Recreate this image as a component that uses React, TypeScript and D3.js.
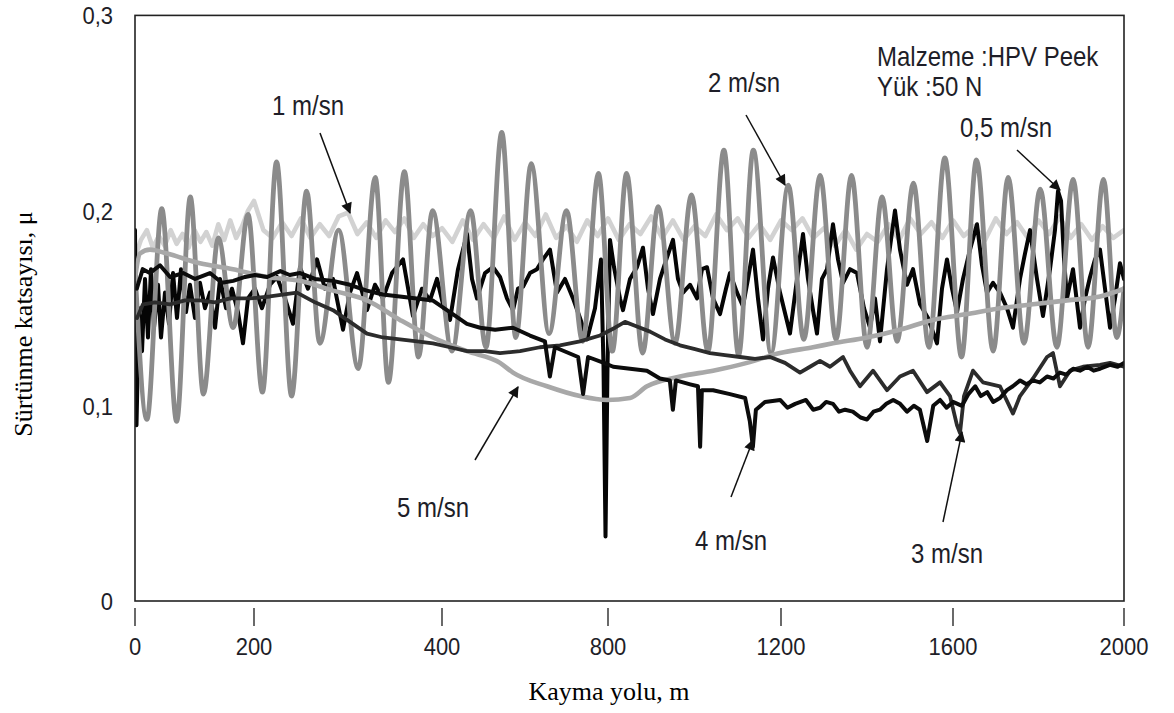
import React from 'react';
import * as d3 from 'd3';

// ---------- data (distance in m, friction coefficient μ) ----------
const xTickValues = [0, 200, 400, 800, 1200, 1600, 2000];
const xTickLabels = ['0', '200', '400', '800', '1200', '1600', '2000'];
const yTickValues = [0, 0.1, 0.2, 0.3];
const yTickLabels = ['0', '0,1', '0,2', '0,3'];

const speed1: [number, number][] = [
  [0, 0.176], [10, 0.185], [20, 0.19], [30, 0.181], [40, 0.187], [50, 0.182], [60, 0.19], [70, 0.183], [80, 0.188], [90, 0.181],
  [100, 0.19], [110, 0.184], [120, 0.189], [130, 0.182], [140, 0.193], [150, 0.185], [160, 0.195], [170, 0.186], [180, 0.192], [190, 0.2],
  [200, 0.205], [210, 0.19], [220, 0.186], [230, 0.194], [240, 0.187], [250, 0.196], [260, 0.186], [270, 0.193], [280, 0.187], [290, 0.197],
  [300, 0.199], [310, 0.188], [320, 0.194], [330, 0.186], [340, 0.195], [350, 0.189], [360, 0.196], [370, 0.186], [380, 0.193], [390, 0.187],
  [400, 0.191], [425, 0.184], [450, 0.195], [475, 0.185], [500, 0.193], [525, 0.186], [550, 0.197], [575, 0.185], [600, 0.194], [625, 0.187],
  [650, 0.198], [675, 0.186], [700, 0.192], [725, 0.184], [750, 0.195], [775, 0.187], [800, 0.196], [825, 0.185], [850, 0.193], [875, 0.188],
  [900, 0.197], [925, 0.186], [950, 0.195], [975, 0.185], [1000, 0.192], [1025, 0.187], [1050, 0.198], [1075, 0.19], [1100, 0.196], [1125, 0.186],
  [1150, 0.193], [1175, 0.185], [1200, 0.195], [1225, 0.19], [1250, 0.196], [1275, 0.186], [1300, 0.191], [1325, 0.182], [1350, 0.19], [1375, 0.18],
  [1400, 0.188], [1425, 0.184], [1450, 0.193], [1475, 0.185], [1500, 0.196], [1525, 0.188], [1550, 0.194], [1575, 0.186], [1600, 0.195], [1625, 0.187],
  [1650, 0.192], [1675, 0.185], [1700, 0.196], [1725, 0.188], [1750, 0.194], [1775, 0.186], [1800, 0.195], [1825, 0.188], [1850, 0.197], [1875, 0.186],
  [1900, 0.193], [1925, 0.185], [1950, 0.192], [1975, 0.186], [2000, 0.19],
];

const speed05: [number, number][] = [
  [0, 0.19], [2.5, 0.09], [6.7, 0.15], [11.8, 0.128], [16.8, 0.165], [21.8, 0.135], [26.9, 0.17], [31.9, 0.14], [38.7, 0.162], [43.7, 0.135],
  [50.4, 0.158], [57.1, 0.142], [63.9, 0.168], [70.6, 0.145], [77.3, 0.17], [85.7, 0.148], [92.4, 0.162], [100.8, 0.145], [109.2, 0.163], [117.6, 0.15],
  [126, 0.158], [134.5, 0.14], [142.9, 0.165], [153, 0.15], [163, 0.16], [173.1, 0.148], [181.5, 0.132], [189.9, 0.155], [201, 0.16], [208.5, 0.15],
  [217, 0.162], [224.5, 0.166], [233, 0.155], [241.5, 0.142], [248.9, 0.171], [257.4, 0.16], [267, 0.175], [275.5, 0.16], [284, 0.165], [294.7, 0.139],
  [302.1, 0.158], [309.6, 0.168], [320.2, 0.149], [328.7, 0.162], [337.2, 0.155], [346.8, 0.168], [358.5, 0.175], [369.1, 0.146], [378.7, 0.16], [387.2, 0.154],
  [394.7, 0.165], [404.8, 0.15], [419.3, 0.144], [438.6, 0.17], [460.2, 0.188], [472.3, 0.165], [484.3, 0.155], [503.6, 0.168], [522.9, 0.171], [539.8, 0.166],
  [556.6, 0.155], [571.1, 0.149], [583.1, 0.16], [595.2, 0.161], [612, 0.168], [628.9, 0.17], [643.4, 0.175], [660.2, 0.18], [677.1, 0.158], [696.4, 0.165],
  [715.7, 0.155], [732.5, 0.145], [749.4, 0.134], [768.7, 0.15], [783.1, 0.175], [789.2, 0.12], [794, 0.033], [798.8, 0.12], [804.6, 0.185], [813.9, 0.171],
  [827.7, 0.155], [834.7, 0.149], [850.9, 0.165], [867, 0.171], [880.9, 0.181], [892.5, 0.16], [904, 0.147], [920.2, 0.165], [936.4, 0.176], [950.3, 0.185],
  [961.8, 0.165], [973.4, 0.158], [989.6, 0.162], [1005.8, 0.155], [1017.3, 0.17], [1028.9, 0.171], [1042.8, 0.155], [1059, 0.147], [1072.8, 0.16], [1082.1, 0.168],
  [1098.3, 0.158], [1112.1, 0.151], [1123.7, 0.165], [1135.3, 0.18], [1146.8, 0.155], [1158.4, 0.134], [1169.9, 0.16], [1181.5, 0.176], [1197.7, 0.158], [1220.9, 0.137],
  [1237.2, 0.165], [1251.2, 0.188], [1262.8, 0.165], [1274.4, 0.149], [1283.7, 0.137], [1295.3, 0.165], [1307, 0.17], [1320.9, 0.193], [1332.6, 0.175], [1344.2, 0.163],
  [1360.5, 0.17], [1376.7, 0.168], [1393, 0.15], [1407, 0.14], [1418.6, 0.155], [1430.2, 0.133], [1446.5, 0.17], [1465.1, 0.2], [1476.7, 0.18], [1493, 0.162],
  [1507, 0.17], [1523.3, 0.152], [1541.9, 0.145], [1562.8, 0.132], [1574.4, 0.16], [1586, 0.175], [1597.7, 0.16], [1609.4, 0.148], [1623.4, 0.165], [1639.8, 0.18],
  [1656.1, 0.193], [1667.8, 0.172], [1679.5, 0.158], [1693.6, 0.163], [1709.9, 0.158], [1726.3, 0.15], [1740.3, 0.14], [1756.7, 0.165], [1768.4, 0.178], [1780.1, 0.19],
  [1796.5, 0.165], [1810.5, 0.146], [1826.9, 0.17], [1838.6, 0.19], [1845.6, 0.21], [1852.7, 0.205], [1859.7, 0.175], [1866.7, 0.155], [1880.7, 0.17], [1897.1, 0.14],
  [1908.8, 0.155], [1920.5, 0.166], [1932.2, 0.175], [1943.9, 0.18], [1955.6, 0.16], [1967.3, 0.14], [1979, 0.155], [1990.6, 0.173], [2000, 0.165],
];

const speed2: [number, number][] = [
  [0, 0.17], [20, 0.093], [45, 0.201], [70, 0.092], [93, 0.207], [115, 0.106], [140, 0.186], [165, 0.14], [190, 0.198], [209, 0.107],
  [224, 0.225], [240, 0.105], [256, 0.21], [270, 0.132], [290, 0.19], [311, 0.119], [329, 0.217], [343, 0.112], [360, 0.22], [375, 0.125],
  [390, 0.2], [424, 0.128], [469, 0.2], [506, 0.13], [544, 0.24], [578, 0.135], [615, 0.224], [658, 0.137], [700, 0.2], [739, 0.133],
  [777, 0.219], [810, 0.128], [843, 0.219], [880, 0.127], [916, 0.202], [955, 0.132], [993, 0.208], [1031, 0.128], [1068, 0.231], [1102, 0.126],
  [1136, 0.231], [1177, 0.127], [1217, 0.213], [1253, 0.134], [1291, 0.218], [1328, 0.134], [1364, 0.218], [1400, 0.13], [1435, 0.207], [1470, 0.133],
  [1508, 0.214], [1544, 0.13], [1581, 0.227], [1620, 0.125], [1655, 0.226], [1694, 0.128], [1729, 0.217], [1766, 0.132], [1804, 0.211], [1843, 0.13],
  [1881, 0.216], [1916, 0.13], [1952, 0.216], [1983, 0.135], [2000, 0.16],
];

const speed3: [number, number][] = [
  [3.4, 0.145], [13.4, 0.152], [33.6, 0.153], [58.8, 0.152], [84, 0.154], [109.2, 0.154], [134.5, 0.153], [159.7, 0.155], [193.3, 0.155], [217, 0.156],
  [245.7, 0.158], [264.9, 0.153], [284.1, 0.149], [302.1, 0.143], [320.2, 0.137], [337.2, 0.135], [355.3, 0.134], [373.4, 0.133], [390.4, 0.132], [419.3, 0.13],
  [460.2, 0.128], [503.6, 0.128], [539.8, 0.127], [588, 0.128], [636.1, 0.13], [684.3, 0.131], [732.5, 0.133], [780.7, 0.136], [816.2, 0.14], [839.3, 0.143],
  [862.4, 0.141], [897.1, 0.138], [931.8, 0.134], [966.5, 0.131], [1001.2, 0.129], [1035.8, 0.127], [1070.5, 0.126], [1105.2, 0.125], [1139.9, 0.124], [1174.6, 0.125],
  [1209.3, 0.122], [1244.2, 0.117], [1267.4, 0.12], [1290.7, 0.123], [1314, 0.12], [1344.2, 0.125], [1360.5, 0.118], [1383.7, 0.11], [1414, 0.118], [1446.5, 0.108],
  [1476.7, 0.115], [1507, 0.118], [1539.6, 0.107], [1569.8, 0.112], [1593, 0.105], [1609.4, 0.09], [1616.4, 0.086], [1625.7, 0.105], [1646.8, 0.118], [1670.2, 0.112],
  [1709.9, 0.11], [1740.3, 0.096], [1756.7, 0.105], [1787.1, 0.114], [1819.9, 0.125], [1833.9, 0.127], [1850.3, 0.11], [1873.7, 0.118], [1904.2, 0.12], [1943.9, 0.121],
  [1967.3, 0.122], [2000, 0.12],
];

const speed4: [number, number][] = [
  [3, 0.16], [13, 0.17], [25, 0.168], [42, 0.172], [59, 0.166], [81, 0.168], [101, 0.165], [126, 0.168], [146, 0.163], [165, 0.164],
  [185, 0.166], [201, 0.167], [214, 0.166], [228, 0.169], [238, 0.167], [249, 0.168], [265, 0.165], [284, 0.164], [302, 0.162], [320, 0.159],
  [337, 0.157], [355, 0.156], [373, 0.155], [390, 0.154], [419, 0.148], [460, 0.142], [492, 0.14], [528, 0.139], [571, 0.14], [612, 0.136],
  [648, 0.133], [660, 0.115], [672, 0.13], [728, 0.125], [740, 0.106], [752, 0.125], [790, 0.122], [812, 0.12], [851, 0.119], [890, 0.118],
  [920, 0.114], [943, 0.113], [950, 0.098], [957, 0.113], [990, 0.111], [1008, 0.11], [1013, 0.079], [1017, 0.108], [1043, 0.108], [1082, 0.106],
  [1117, 0.104], [1128, 0.092], [1135, 0.079], [1142, 0.098], [1163, 0.102], [1198, 0.103], [1215, 0.099], [1233, 0.101], [1258, 0.103], [1275, 0.098],
  [1291, 0.099], [1305, 0.102], [1321, 0.101], [1335, 0.097], [1349, 0.098], [1367, 0.097], [1385, 0.094], [1400, 0.093], [1415, 0.097], [1430, 0.098],
  [1445, 0.101], [1461, 0.103], [1477, 0.101], [1493, 0.097], [1509, 0.1], [1523, 0.098], [1540, 0.082], [1554, 0.1], [1570, 0.103], [1585, 0.099],
  [1600, 0.102], [1621, 0.1], [1636, 0.106], [1652, 0.11], [1665, 0.105], [1680, 0.107], [1694, 0.102], [1710, 0.104], [1726, 0.108], [1740, 0.11],
  [1757, 0.113], [1772, 0.111], [1787, 0.113], [1803, 0.112], [1820, 0.115], [1835, 0.114], [1850, 0.117], [1865, 0.116], [1881, 0.119], [1897, 0.118],
  [1914, 0.12], [1929, 0.118], [1944, 0.119], [1967, 0.121], [1985, 0.12], [2000, 0.122],
];

const speed5: [number, number][] = [
  [0, 0.165], [8.4, 0.178], [25.2, 0.18], [53.8, 0.178], [109.2, 0.173], [164.7, 0.17], [213.8, 0.166], [248.9, 0.164], [284.1, 0.159], [320.2, 0.154],
  [355.3, 0.144], [390.4, 0.135], [460.2, 0.128], [539.8, 0.122], [571.1, 0.117], [653, 0.11], [732.5, 0.105], [797.6, 0.103], [850.9, 0.104], [890.2, 0.11],
  [966.5, 0.115], [1042.8, 0.118], [1121.4, 0.122], [1197.7, 0.127], [1274.4, 0.13], [1320.9, 0.132], [1400, 0.135], [1476.7, 0.139], [1553.5, 0.144], [1632.7, 0.147],
  [1709.9, 0.15], [1787.1, 0.152], [1866.7, 0.154], [1943.9, 0.156], [2000, 0.16],
];

// ---------- component ----------
const SANS = 'Liberation Sans, Arial, sans-serif';
const SERIF = 'Liberation Serif, Times New Roman, serif';

function Label({ x, y, text, anchor = 'start', size = 24 }: { x: number; y: number; text: string; anchor?: string; size?: number }) {
  return (
    <text
      transform={`translate(${x},${y}) scale(1,1.12)`}
      textAnchor={anchor as any}
      fontFamily={SANS}
      fontSize={size}
      fill="#1e1e28"
    >
      {text}
    </text>
  );
}

export default function App() {
  const W = 1174;
  const H = 713;
  const left = 135, right = 1124, top = 15.4, bottom = 601;

  const x = d3.scaleLinear().domain(xTickValues).range([135, 254, 442, 608, 781, 953, 1124]);
  const y = d3.scaleLinear().domain([0, 0.3]).range([bottom, top]);

  const lin = d3.line<[number, number]>().x(d => x(d[0])).y(d => y(d[1]));
  const smooth = d3.line<[number, number]>().x(d => x(d[0])).y(d => y(d[1])).curve(d3.curveMonotoneX);

  const series = [
    { key: '1', data: speed1, color: '#d2d2d2', width: 4.6, gen: lin },
    { key: '05', data: speed05, color: '#050505', width: 4, gen: lin },
    { key: '2', data: speed2, color: '#8b8b8b', width: 4.8, gen: smooth },
    { key: '5', data: speed5, color: '#a8a8a8', width: 4.6, gen: smooth },
    { key: '3', data: speed3, color: '#2c2c2c', width: 3.8, gen: lin },
    { key: '4', data: speed4, color: '#0c0c0c', width: 4, gen: lin },
  ];

  const arrows = [
    { x1: 320, y1: 133, x2: 350, y2: 213 },
    { x1: 746, y1: 115, x2: 785, y2: 185 },
    { x1: 1017, y1: 150, x2: 1060, y2: 190 },
    { x1: 475, y1: 460, x2: 518, y2: 387 },
    { x1: 731, y1: 497, x2: 753, y2: 440 },
    { x1: 943, y1: 522, x2: 962, y2: 432 },
  ];

  return (
    <svg
      width={W}
      height={H}
      style={{ position: 'absolute', left: 0, top: 0, background: '#fff' }}
    >
      <defs>
        <marker id="ah" viewBox="0 0 10 10" refX="9" refY="5" markerWidth="14" markerHeight="11"
          orient="auto" markerUnits="userSpaceOnUse">
          <path d="M0,0 L10,5 L0,10 z" fill="#111" />
        </marker>
        <clipPath id="plot">
          <rect x={left} y={top} width={right - left} height={bottom - top} />
        </clipPath>
      </defs>
      <rect width={W} height={H} fill="#fff" />

      <g clipPath="url(#plot)">
        {series.map(s => (
          <path key={s.key} d={s.gen(s.data) || ''} fill="none" stroke={s.color}
            strokeWidth={s.width} strokeLinejoin="round" strokeLinecap="round" />
        ))}
      </g>

      {/* frame */}
      <rect x={left} y={top} width={right - left} height={bottom - top} fill="none" stroke="#222" strokeWidth={1.6} />

      {/* x ticks */}
      {xTickValues.map((v, i) => (
        <g key={v}>
          <line x1={x(v)} x2={x(v)} y1={608} y2={626} stroke="#444" strokeWidth={1.6} />
          <Label x={x(v)} y={655} text={xTickLabels[i]} anchor="middle" size={22} />
        </g>
      ))}

      {/* y tick labels */}
      {yTickValues.map((v, i) => (
        <Label key={v} x={113} y={y(v) + 9} text={yTickLabels[i]} anchor="end" size={22} />
      ))}

      {/* axis titles */}
      <text x={609} y={700} textAnchor="middle" fontFamily={SERIF} fontSize={26} fill="#000">Kayma yolu, m</text>
      <text transform="translate(32,324) rotate(-90)" textAnchor="middle" fontFamily={SERIF} fontSize={26} fill="#000">
        Sürtünme katsayısı, μ
      </text>

      {/* annotations */}
      {arrows.map((a, i) => (
        <line key={i} x1={a.x1} y1={a.y1} x2={a.x2} y2={a.y2} stroke="#111" strokeWidth={1.5} markerEnd="url(#ah)" />
      ))}
      <Label x={272} y={115} text="1 m/sn" />
      <Label x={708} y={92} text="2 m/sn" />
      <Label x={960} y={137} text="0,5 m/sn" />
      <Label x={877} y={66} text="Malzeme :HPV Peek" />
      <Label x={877} y={96} text="Yük :50 N" />
      <Label x={397} y={517} text="5 m/sn" />
      <Label x={695} y={550} text="4 m/sn" />
      <Label x={911} y={563} text="3 m/sn" />
    </svg>
  );
}
